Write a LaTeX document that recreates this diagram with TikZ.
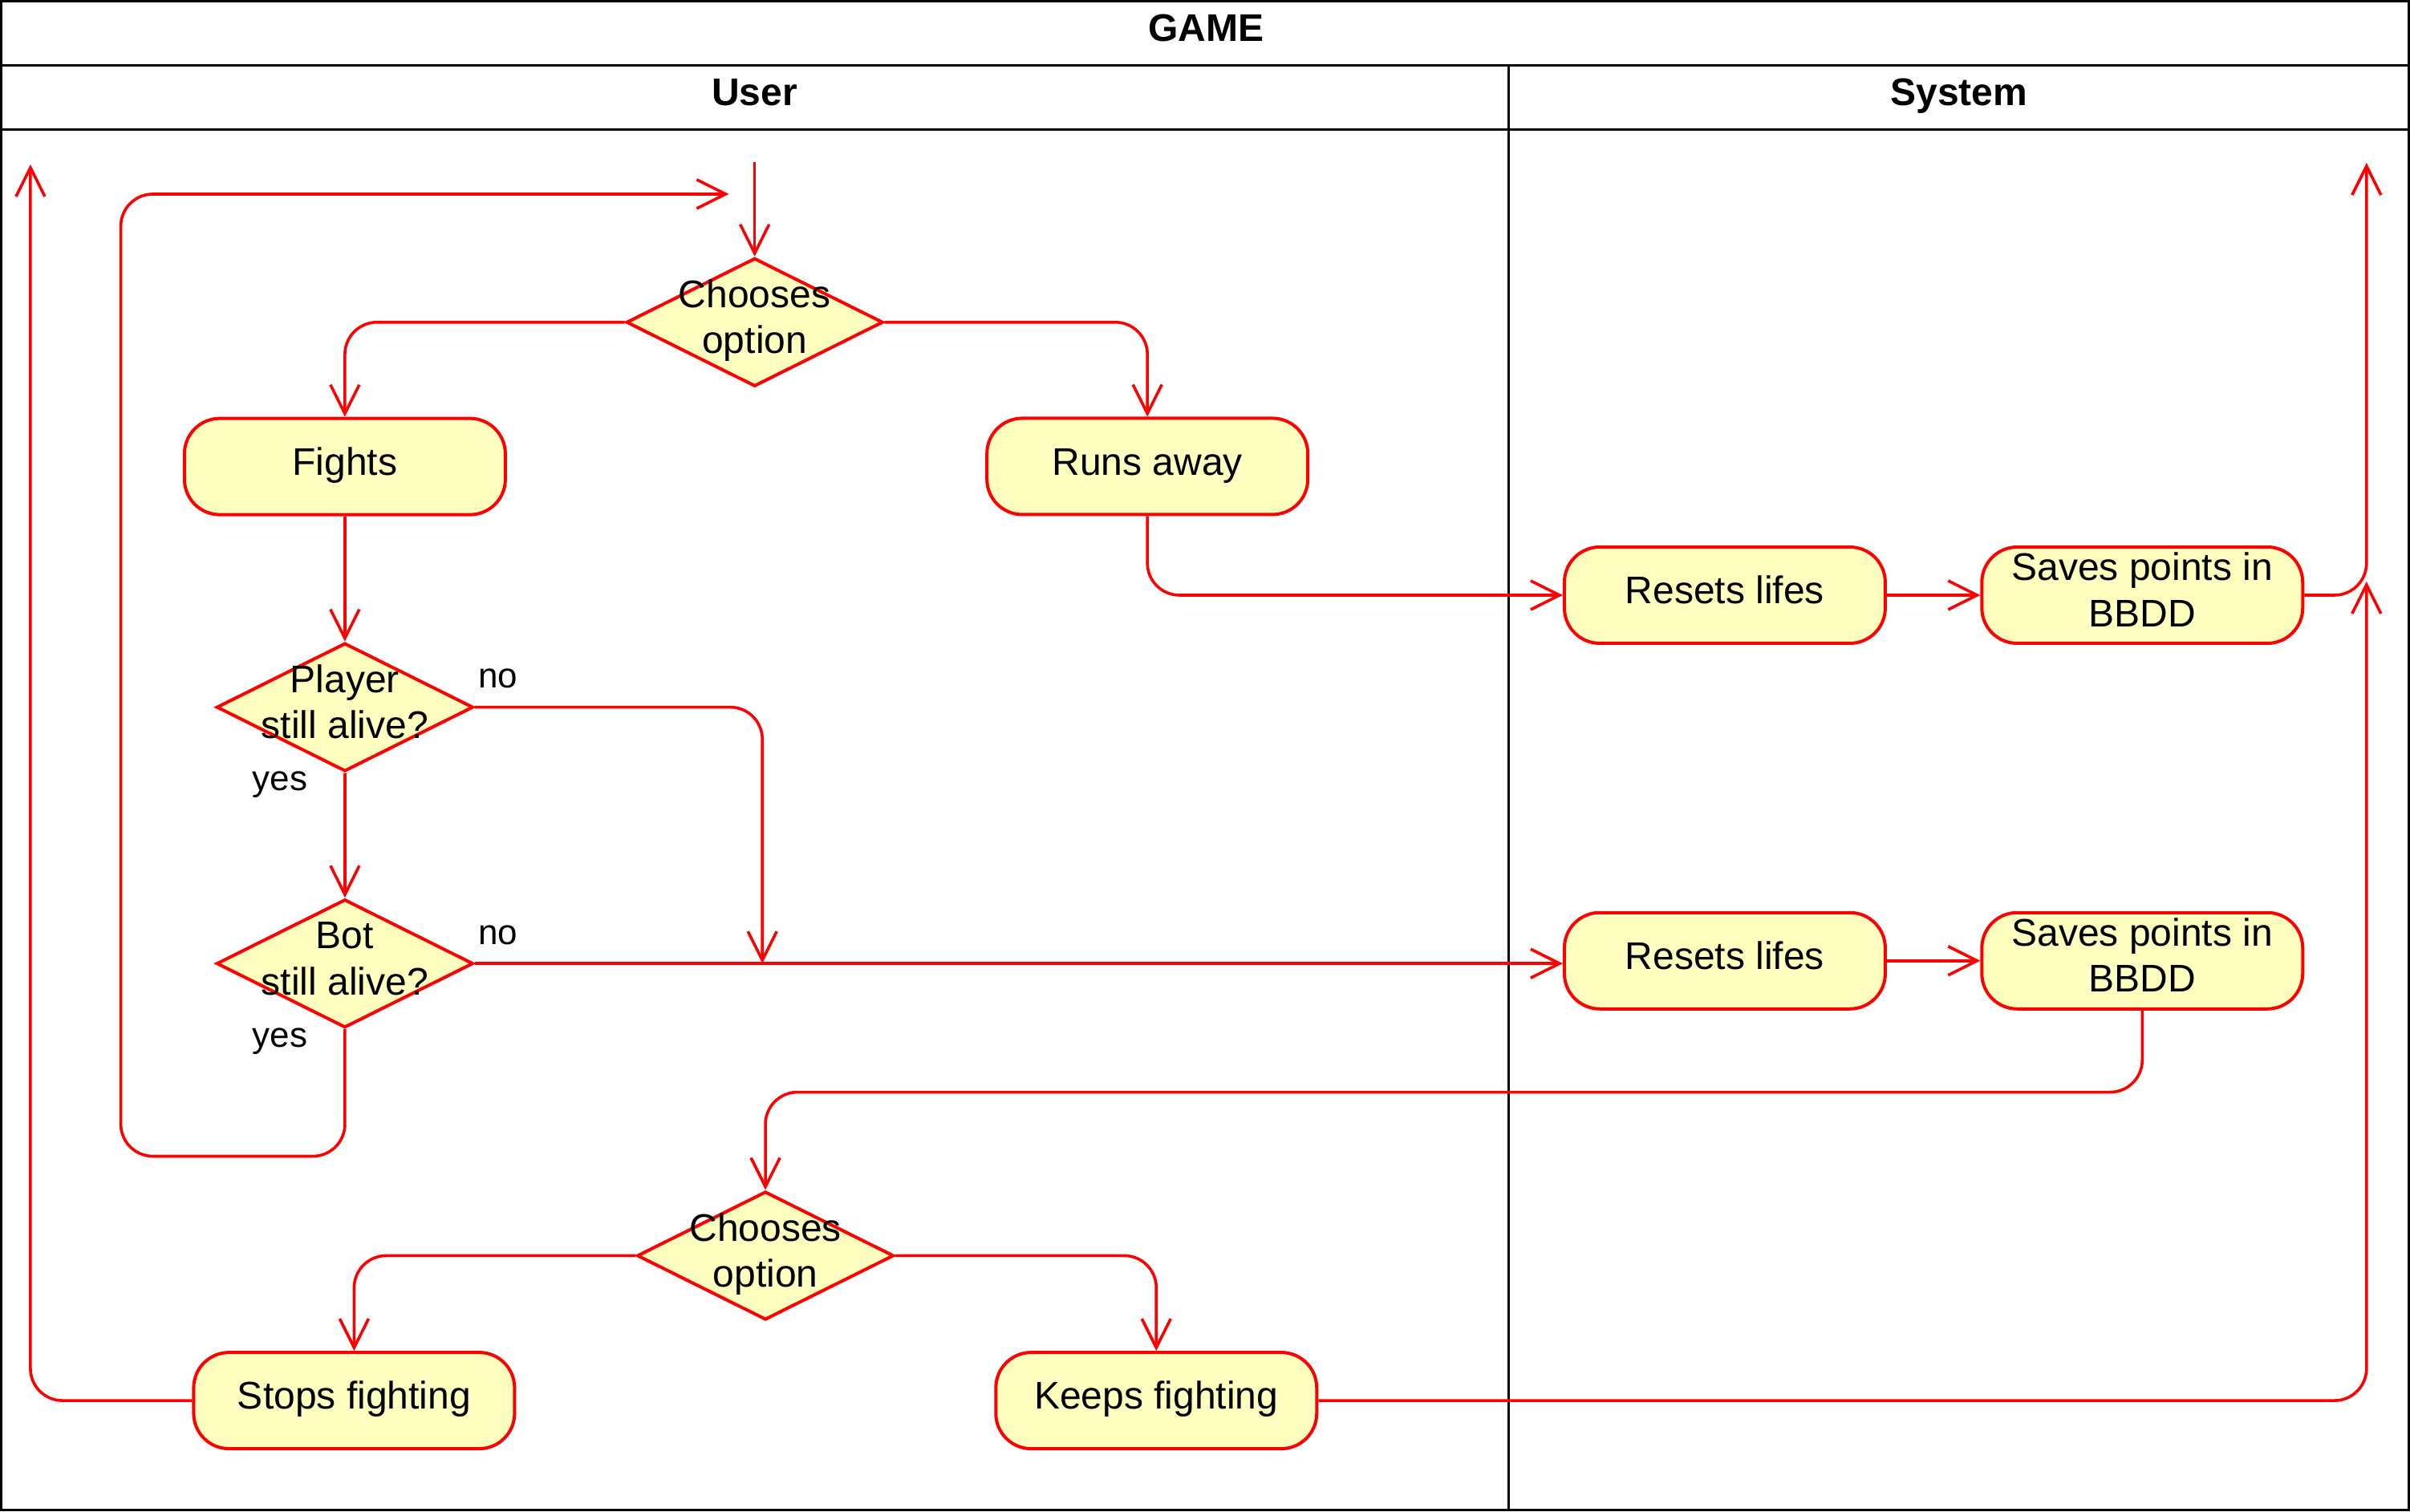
\documentclass[tikz,border=0pt]{standalone}
\usepackage{fontspec}
\setmainfont{Liberation Sans}
\usetikzlibrary{arrows.meta,shapes.geometric,calc}
\definecolor{boxfill}{HTML}{FFFFC0}
\definecolor{umlred}{HTML}{FF0000}
\newcommand\twolines[2]{\raisebox{0pt}[24.8pt][5.2pt]{\begin{tabular}[b]{@{}c@{}}#1\\#2\end{tabular}}}
\begin{document}
\begin{tikzpicture}[x=0.479pt,y=-0.479pt,
  frame/.style={draw=black,line width=0.8pt},
  actbox/.style={draw=umlred,fill=boxfill,line width=1pt,rounded corners=11pt,minimum width=100pt,minimum height=30pt,inner sep=0pt,font=\fontsize{12}{14.4}\selectfont},
  oneline/.style={text height=8.7pt,text depth=3.3pt},
  decis/.style={diamond,draw=umlred,fill=boxfill,line width=1pt,minimum width=80pt,minimum height=40pt,inner sep=0pt},
  dtext/.style={inner sep=0pt,font=\fontsize{12}{14.4}\selectfont},
  flow/.style={draw=umlred,line width=0.9pt,rounded corners=10pt,-{Straight Barb[length=9pt,width=9pt]}},
  lbl/.style={font=\fontsize{11}{13}\selectfont,inner sep=0pt},
  hdr/.style={font=\bfseries\fontsize{12}{14}\selectfont,anchor=base,inner sep=0pt}]
\useasboundingbox (0,0) rectangle (1568,983.4);
% frame
\draw[frame] (0.84,0.84) rectangle (1567.2,982.6);
\draw[frame] (0,42.6) -- (1568,42.6);
\draw[frame] (0,84.4) -- (1568,84.4);
\draw[frame] (981.7,42.6) -- (981.7,983.4);
\node[hdr] (game) at (784.6,27) {GAME};
\node[hdr] (user) at (491,68.7) {User};
\node[hdr] (sys) at (1274.5,68.7) {System};
% activity nodes
\node[actbox,oneline] (fights) at (224.4,303.6) {Fights};
\node[actbox,oneline] (runs) at (746.5,303.5) {Runs away};
\node[actbox,oneline] (res1) at (1122.2,387.3) {Resets lifes};
\node[actbox] (sav1) at (1393.8,387.3) {\twolines{Saves points in}{BBDD}};
\node[actbox,oneline] (res2) at (1122.2,625.2) {Resets lifes};
\node[actbox] (sav2) at (1393.8,625.2) {\twolines{Saves points in}{BBDD}};
\node[actbox,oneline] (stops) at (230.4,911.4) {Stops fighting};
\node[actbox,oneline] (keeps) at (752.3,911.4) {Keeps fighting};
% decisions
\node[decis] (ch1) at (491,209.7) {};
\node[dtext] (ch1t) at (ch1.center) {\twolines{Chooses}{option}};
\node[decis] (pl) at (224.4,460.2) {};
\node[dtext] (plt) at (pl.center) {\twolines{Player}{still alive?}};
\node[decis] (bot) at (224.4,627) {};
\node[dtext] (bott) at (bot.center) {\twolines{Bot}{still alive?}};
\node[decis] (ch2) at (498,817.1) {};
\node[dtext] (ch2t) at (ch2.center) {\twolines{Chooses}{option}};
% labels
\node[lbl] (n1) at (324,441.7) {no};
\node[lbl] (y1) at (182.2,510.5) {yes};
\node[lbl] (n2) at (324,608.4) {no};
\node[lbl] (y2) at (182.2,677.5) {yes};
% coordinates
\coordinate (st) at (491,105.3);
\coordinate (loopend) at (474.2,126.3);
\coordinate (loopbl) at (78.6,752.4);
\coordinate (pno) at (496,627);
\coordinate (up1) at (1539.7,106);
\coordinate (up2) at (1539.7,378.4);
\coordinate (upL) at (19.8,107);
\coordinate (j1) at (498,710.7);
% connectors
\draw[flow] (st) -- (ch1.north);
\draw[flow] (ch1.west) -| (fights.north);
\draw[flow] (ch1.east) -| (runs.north);
\draw[flow] (fights.south) -- (pl.north);
\draw[flow] (pl.east) -| (pno);
\draw[flow] (pl.south) -- (bot.north);
\draw[flow] (bot.east) -- (bot.east -| res2.west);
\draw[flow] (bot.south) |- (loopbl) |- (loopend);
\draw[flow] (runs.south) |- (res1.west);
\draw[flow] (res1.east) -- (sav1.west);
\draw[flow] (sav1.east) -| (up1);
\draw[flow] (res2.east) -- (sav2.west);
\draw[flow] (sav2.south) |- (j1) -- (ch2.north);
\draw[flow] (ch2.west) -| (stops.north);
\draw[flow] (ch2.east) -| (keeps.north);
\draw[flow] (stops.west) -| (upL);
\draw[flow] (keeps.east) -| (up2);
\end{tikzpicture}
\end{document}
